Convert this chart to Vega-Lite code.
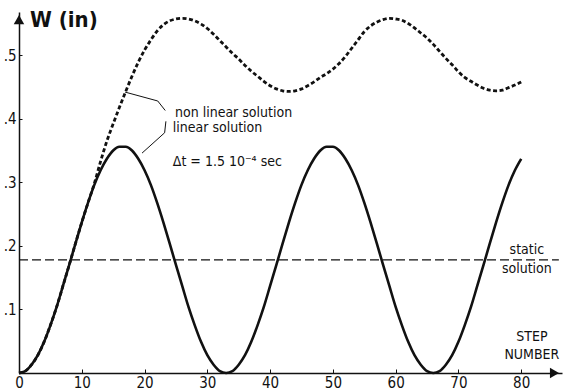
{
  "$schema": "https://vega.github.io/schema/vega-lite/v6.json",
  "width": 543,
  "height": 361,
  "autosize": {"type": "none"},
  "padding": {"left": 19, "top": 12, "right": 3, "bottom": 17},
  "background": "white",
  "config": {
    "view": {"stroke": null},
    "font": "DejaVu Sans Condensed, DejaVu Sans, sans-serif",
    "text": {"font": "DejaVu Sans Condensed, DejaVu Sans, sans-serif", "color": "#111"}
  },
  "datasets": {
    "linear": [
      {"step":0,"W":0},{"step":1,"W":0.003},{"step":2,"W":0.013},{"step":3,"W":0.028},{"step":4,"W":0.049},{"step":5,"W":0.075},{"step":6,"W":0.104},{"step":7,"W":0.137},{"step":8,"W":0.170},{"step":9,"W":0.204},{"step":10,"W":0.237},{"step":11,"W":0.268},{"step":12,"W":0.296},{"step":13,"W":0.319},{"step":14,"W":0.337},{"step":15,"W":0.350},{"step":16,"W":0.356},{"step":17,"W":0.356},{"step":18,"W":0.350},{"step":19,"W":0.337},{"step":20,"W":0.319},{"step":21,"W":0.296},{"step":22,"W":0.268},{"step":23,"W":0.237},{"step":24,"W":0.204},{"step":25,"W":0.170},{"step":26,"W":0.137},{"step":27,"W":0.104},{"step":28,"W":0.075},{"step":29,"W":0.049},{"step":30,"W":0.028},{"step":31,"W":0.013},{"step":32,"W":0.003},{"step":33,"W":0},{"step":34,"W":0.003},{"step":35,"W":0.013},{"step":36,"W":0.028},{"step":37,"W":0.049},{"step":38,"W":0.075},{"step":39,"W":0.104},{"step":40,"W":0.137},{"step":41,"W":0.170},{"step":42,"W":0.204},{"step":43,"W":0.237},{"step":44,"W":0.268},{"step":45,"W":0.296},{"step":46,"W":0.319},{"step":47,"W":0.337},{"step":48,"W":0.350},{"step":49,"W":0.356},{"step":50,"W":0.356},{"step":51,"W":0.350},{"step":52,"W":0.337},{"step":53,"W":0.319},{"step":54,"W":0.296},{"step":55,"W":0.268},{"step":56,"W":0.237},{"step":57,"W":0.204},{"step":58,"W":0.170},{"step":59,"W":0.137},{"step":60,"W":0.104},{"step":61,"W":0.075},{"step":62,"W":0.049},{"step":63,"W":0.028},{"step":64,"W":0.013},{"step":65,"W":0.003},{"step":66,"W":0},{"step":67,"W":0.003},{"step":68,"W":0.013},{"step":69,"W":0.028},{"step":70,"W":0.049},{"step":71,"W":0.075},{"step":72,"W":0.104},{"step":73,"W":0.137},{"step":74,"W":0.170},{"step":75,"W":0.204},{"step":76,"W":0.237},{"step":77,"W":0.268},{"step":78,"W":0.296},{"step":79,"W":0.319},{"step":80,"W":0.337}
    ],
    "nonlinear": [
      {"step":0,"W":0},{"step":1,"W":0.003},{"step":2,"W":0.013},{"step":3,"W":0.028},{"step":4,"W":0.049},{"step":5,"W":0.075},{"step":6,"W":0.104},{"step":7,"W":0.137},{"step":8,"W":0.170},{"step":9,"W":0.204},{"step":10,"W":0.237},{"step":11,"W":0.268},{"step":12,"W":0.298},{"step":13,"W":0.333},{"step":14,"W":0.365},{"step":15,"W":0.392},{"step":16,"W":0.418},{"step":17,"W":0.443},{"step":18,"W":0.467},{"step":19,"W":0.489},{"step":20,"W":0.508},{"step":21,"W":0.524},{"step":22,"W":0.538},{"step":23,"W":0.548},{"step":24,"W":0.554},{"step":25,"W":0.557},{"step":26,"W":0.558},{"step":27,"W":0.557},{"step":28,"W":0.554},{"step":29,"W":0.549},{"step":30,"W":0.542},{"step":31,"W":0.533},{"step":32,"W":0.523},{"step":33,"W":0.513},{"step":34,"W":0.503},{"step":35,"W":0.494},{"step":36,"W":0.484},{"step":37,"W":0.475},{"step":38,"W":0.467},{"step":39,"W":0.459},{"step":40,"W":0.452},{"step":41,"W":0.447},{"step":42,"W":0.444},{"step":43,"W":0.443},{"step":44,"W":0.444},{"step":45,"W":0.447},{"step":46,"W":0.452},{"step":47,"W":0.458},{"step":48,"W":0.465},{"step":49,"W":0.471},{"step":50,"W":0.478},{"step":51,"W":0.487},{"step":52,"W":0.498},{"step":53,"W":0.511},{"step":54,"W":0.524},{"step":55,"W":0.537},{"step":56,"W":0.546},{"step":57,"W":0.552},{"step":58,"W":0.556},{"step":59,"W":0.558},{"step":60,"W":0.557},{"step":61,"W":0.555},{"step":62,"W":0.550},{"step":63,"W":0.543},{"step":64,"W":0.535},{"step":65,"W":0.527},{"step":66,"W":0.517},{"step":67,"W":0.506},{"step":68,"W":0.495},{"step":69,"W":0.485},{"step":70,"W":0.474},{"step":71,"W":0.465},{"step":72,"W":0.459},{"step":73,"W":0.453},{"step":74,"W":0.448},{"step":75,"W":0.445},{"step":76,"W":0.444},{"step":77,"W":0.445},{"step":78,"W":0.449},{"step":79,"W":0.453},{"step":80,"W":0.458}
    ],
    "static": [{"step":0,"W":0.178},{"step":86,"W":0.178}],
    "leaders": [
      {"id":"nl","step":16.9,"W":0.442},{"id":"nl","step":22.1,"W":0.428},{"id":"nl","step":23.3,"W":0.413},
      {"id":"lin","step":23.4,"W":0.396},{"id":"lin","step":23.2,"W":0.378},{"id":"lin","step":19.6,"W":0.346}
    ],
    "notesLeft": [
      {"label":"non linear solution","step":24.85,"W":0.409},
      {"label":"linear solution","step":24.5,"W":0.3855},
      {"label":"Δt = 1.5  10⁻⁴ sec","step":24.5,"W":0.332}
    ],
    "notesCenter": [
      {"label":"static","step":80.9,"W":0.194},
      {"label":"solution","step":80.9,"W":0.164},
      {"label":"STEP","step":81.7,"W":0.056},
      {"label":"NUMBER","step":81.7,"W":0.028}
    ],
    "title": [{"label":"W (in)","step":1.75,"W":0.5557}],
    "arrowUp": [{"step":0,"W":0.556}],
    "arrowRight": [{"step":85.3,"W":0}]
  },
  "encoding": {
    "x": {"field":"step","type":"quantitative","scale":{"domain":[0,86.5],"nice":false,"zero":false},
      "axis":{"title":null,"values":[0,10,20,30,40,50,60,70,80],"grid":false,"domainColor":"#111","domainWidth":1.5,"tickColor":"#111","tickSize":-4,"tickWidth":1,"labelPadding":6,"labelFontSize":15,"labelFont":"DejaVu Sans Condensed, DejaVu Sans, sans-serif","labelColor":"#111","labelFlush":false,"labelOverlap":false}},
    "y": {"field":"W","type":"quantitative","scale":{"domain":[0,0.568],"nice":false,"zero":false},
      "axis":{"title":null,"values":[0.1,0.2,0.3,0.4,0.5],"labelExpr":"'.' + round(datum.value*10)","grid":false,"domainColor":"#111","domainWidth":1.5,"tickColor":"#111","tickSize":-3,"tickWidth":1,"labelPadding":6,"labelFontSize":15,"labelFont":"DejaVu Sans Condensed, DejaVu Sans, sans-serif","labelColor":"#111"}}
  },
  "layer": [
    {"data":{"name":"static"},"mark":{"type":"line","color":"#111","strokeWidth":1.2,"strokeDash":[9,4]}},
    {"data":{"name":"linear"},"mark":{"type":"line","color":"#111","strokeWidth":2.6,"interpolate":"monotone"}},
    {"data":{"name":"nonlinear"},"mark":{"type":"line","color":"#111","strokeWidth":2.8,"strokeDash":[4,2.5],"interpolate":"monotone"}},
    {"data":{"name":"leaders"},"mark":{"type":"line","color":"#111","strokeWidth":1},"encoding":{"detail":{"field":"id"}}},
    {"data":{"name":"notesLeft"},"mark":{"type":"text","align":"left","baseline":"middle","fontSize":14},"encoding":{"text":{"field":"label"}}},
    {"data":{"name":"notesCenter"},"mark":{"type":"text","align":"center","baseline":"middle","fontSize":14},"encoding":{"text":{"field":"label"}}},
    {"data":{"name":"title"},"mark":{"type":"text","align":"left","baseline":"middle","fontSize":22,"fontWeight":"bold"},"encoding":{"text":{"field":"label"}}},
    {"data":{"name":"arrowUp"},"mark":{"type":"point","filled":true,"color":"#111","opacity":1,"size":110,"shape":"triangle-up","clip":false}},
    {"data":{"name":"arrowRight"},"mark":{"type":"point","filled":true,"color":"#111","opacity":1,"size":110,"shape":"triangle-right","clip":false}}
  ]
}
